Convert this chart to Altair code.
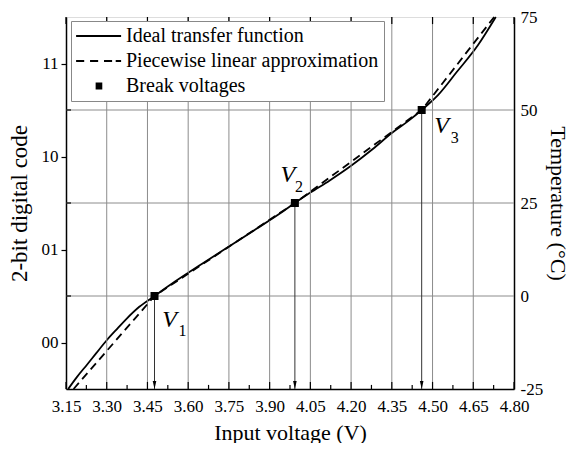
import altair as alt
import pandas as pd

# ---------------- data ----------------
ideal_v = [3.158, 3.19, 3.228, 3.26, 3.30, 3.34, 3.372, 3.42, 3.476, 3.55, 3.65, 3.75,
           3.85, 3.95, 3.993, 4.05, 4.12, 4.20, 4.28, 4.35, 4.41, 4.46, 4.52, 4.589,
           4.667, 4.733]
ideal_t = [-25, -21.8, -18.4, -15.5, -11.9, -8.7, -6.2, -2.9, 0, 3.8, 8.6, 13.3,
           18.0, 22.8, 25, 27.8, 31.0, 35.0, 39.5, 43.8, 47.0, 50, 54.0, 60.2,
           67.4, 75]
pwl_v = [3.178, 3.476, 3.993, 4.46, 4.727]
pwl_t = [-25, 0, 25, 50, 75]
break_v = [3.476, 3.993, 4.46]
break_t = [0, 25, 50]
break_idx = ["1", "2", "3"]

x_ticks = [3.15, 3.30, 3.45, 3.60, 3.75, 3.90, 4.05, 4.20, 4.35, 4.50, 4.65, 4.80]
x_minor = [3.225, 3.375, 3.525, 3.675, 3.825, 3.975, 4.125, 4.275, 4.425, 4.575, 4.725]
temp_ticks = [-25, 0, 25, 50, 75]
code_pos = [-12.5, 12.5, 37.5, 62.5]
code_labels = ["00", "01", "10", "11"]
grid_x = [3.30, 3.45, 3.60, 3.75, 3.90, 4.05, 4.20, 4.35, 4.50, 4.65]
grid_t = [0, 25, 50]
legend_labels = ["Ideal transfer function", "Piecewise linear approximation", "Break voltages"]

FONT = "Liberation Serif"
W, H = 448, 372
XMIN, XMAX = 3.15, 4.80
TMIN, TMAX = -25, 75

# ---------------- tables ----------------
ideal_df = pd.DataFrame({"v": ideal_v, "t": ideal_t})
pwl_df = pd.DataFrame({"v": pwl_v, "t": pwl_t})
brk_df = pd.DataFrame({"v": break_v, "t": break_t, "i": break_idx})
gx_df = pd.DataFrame({"v": grid_x})
gt_df = pd.DataFrame({"t": grid_t})
xt_df = pd.DataFrame({"v": x_ticks})
xm_df = pd.DataFrame({"v": x_minor})
leg_df = pd.DataFrame({"series": legend_labels, "v": [3.5] * 3, "t": [0] * 3})

xs = alt.Scale(domain=[XMIN, XMAX], nice=False, zero=False)
ys = alt.Scale(domain=[TMIN, TMAX], nice=False, zero=False)

x_axis = alt.Axis(orient="bottom", values=x_ticks, format=".2f", ticks=False, grid=False,
                  labelOverlap=False, labelFlush=False,
                  labelFont=FONT, labelFontSize=17, labelColor="black", labelPadding=9,
                  domainColor="black", domainWidth=1.5,
                  title="Input voltage (V)", titleFont=FONT, titleFontSize=22,
                  titleFontWeight="normal", titleColor="black", titlePadding=8)


def X(field="v"):
    return alt.X(f"{field}:Q", scale=xs, axis=x_axis, title="Input voltage (V)")


def Y(field="t", axis=None):
    return alt.Y(f"{field}:Q", scale=ys, axis=axis)


code_expr = ("datum.value < 0 ? '00' : datum.value < 25 ? '01' : "
             "datum.value < 50 ? '10' : '11'")

left_axis = alt.Axis(orient="left", values=code_pos, labelExpr=code_expr, grid=False,
                     tickSize=5, tickColor="black", tickWidth=1.2,
                     labelFont=FONT, labelFontSize=17, labelColor="black", labelPadding=3,
                     domainColor="black", domainWidth=1.5,
                     title="2-bit digital code", titleFont=FONT, titleFontSize=23,
                     titleFontWeight="normal", titleColor="black", titlePadding=10)
right_axis = alt.Axis(orient="right", values=temp_ticks, grid=False, ticks=False,
                      labelExpr="'' + datum.value", labelOverlap=False, labelFlush=False,
                      labelFont=FONT, labelFontSize=17, labelColor="black", labelPadding=6,
                      domainColor="black", domainWidth=1.5,
                      title="Temperature (°C)", titleFont=FONT, titleFontSize=22,
                      titleFontWeight="normal", titleColor="black", titlePadding=3)

# grid lines
grid_v = alt.Chart(gx_df).mark_rule(color="#8c8c8c", strokeWidth=1).encode(x=X())
grid_h = alt.Chart(gt_df).mark_rule(color="#8c8c8c", strokeWidth=1).encode(
    y=Y(), x=alt.value(0), x2=alt.value(W))

# inward ticks on x axis (bottom) and top, and left boundary ticks
tick_major = alt.Chart(xt_df).mark_rule(color="black", strokeWidth=1.2).encode(
    x=X(), y=alt.Y(datum=TMIN, scale=ys, axis=None), y2=alt.Y2(datum=TMIN + 1.9))
tick_top = alt.Chart(xt_df).mark_rule(color="black", strokeWidth=1.2).encode(
    x=X(), y=alt.Y(datum=TMAX, scale=ys, axis=None), y2=alt.Y2(datum=TMAX - 1.9))
tick_minor = alt.Chart(xm_df).mark_rule(color="black", strokeWidth=1.2).encode(
    x=X(), y=alt.Y(datum=TMIN, scale=ys, axis=None), y2=alt.Y2(datum=TMIN + 1.1))
tick_left_in = alt.Chart(gt_df).mark_rule(color="black", strokeWidth=1.2).encode(
    y=Y(), x=alt.value(0), x2=alt.value(5))

# arrows from break points down to the axis
arrow_line = alt.Chart(brk_df).mark_rule(color="#333333", strokeWidth=1).encode(
    x=X(), y=Y(), y2=alt.Y2(datum=TMIN))
arrow_head = alt.Chart(brk_df).mark_point(
    shape="M-0.45,-1L0.45,-1L0,1Z", filled=True, color="black", size=64, opacity=1,
    yOffset=-4).encode(x=X(), y=alt.Y(datum=TMIN, scale=ys, axis=None))

# curves
ideal = alt.Chart(ideal_df).mark_line(color="black", strokeWidth=1.8,
                                      interpolate="monotone").encode(
    x=X(), y=Y(axis=left_axis))
pwl = alt.Chart(pwl_df).mark_line(color="black", strokeWidth=1.8,
                                  strokeDash=[8, 5]).encode(
    x=X(), y=Y(axis=right_axis))
squares = alt.Chart(brk_df).mark_square(color="black", size=64, opacity=1).encode(
    x=X(), y=Y())

# V labels with subscripts
v_off = [(15, 24, 28, 35), (-7, -28, 4, -16), (20, 16, 33, 28)]
labels = []
for k, (dx, dy, sdx, sdy) in enumerate(v_off):
    sub = brk_df.iloc[[k]]
    labels.append(alt.Chart(sub).mark_text(
        text="V", font=FONT, fontSize=24, fontStyle="italic", color="black",
        dx=dx, dy=dy).encode(x=X(), y=Y()))
    labels.append(alt.Chart(sub).mark_text(
        font=FONT, fontSize=16, color="black", dx=sdx, dy=sdy).encode(
        x=X(), y=Y(), text="i:N"))

# legend carrier (invisible marks); symbols drawn as stroked paths
leg_paths = [
    "M-1.1,0H3.9",
    "M-1.1,0H-0.2M0.45,0H1.35M2.0,0H2.9M3.3,0H3.9",
    "M1.07,-0.3H1.81M1.07,-0.1H1.81M1.07,0.1H1.81M1.07,0.3H1.81",
]
legend_layer = alt.Chart(leg_df).mark_point(filled=False, size=324, color="black").encode(
    x=X(), y=Y(),
    opacity=alt.value(0),
    shape=alt.Shape("series:N",
                    scale=alt.Scale(domain=legend_labels, range=leg_paths),
                    legend=alt.Legend(
                        title=None, orient="none", legendX=5, legendY=4,
                        labelFont=FONT, labelFontSize=20, labelColor="black",
                        labelLimit=0, labelOffset=30,
                        strokeColor="#888888", fillColor="white",
                        padding=5, rowPadding=5,
                        symbolSize=324, symbolStrokeWidth=1.8,
                        symbolStrokeColor="black", symbolOpacity=1)))

chart = alt.layer(
    ideal, grid_v, grid_h, tick_major, tick_top, tick_minor, tick_left_in,
    arrow_line, arrow_head, pwl, squares, *labels, legend_layer
).resolve_axis(y="independent").properties(
    width=W, height=H, padding={"left": 0, "top": 0, "bottom": 0, "right": 3}
).configure_view(stroke="black", strokeWidth=1.5).configure(font=FONT)

chart.save("out.html", embed_options={"renderer": "svg", "actions": False})
